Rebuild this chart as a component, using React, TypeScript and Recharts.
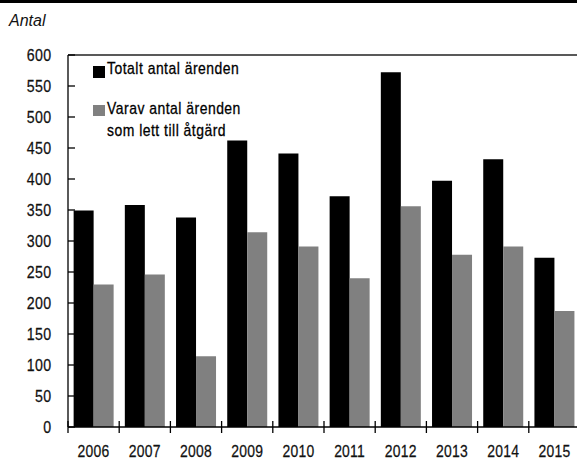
import React from "react";
import { BarChart, Bar, XAxis, YAxis, Legend, ReferenceLine } from "recharts";

const years = ["2006", "2007", "2008", "2009", "2010", "2011", "2012", "2013", "2014", "2015"];
const totalt = [349, 358, 338, 462, 441, 372, 572, 397, 432, 273];
const atgard = [230, 246, 114, 314, 291, 240, 356, 278, 291, 187];
const yTicks = [0, 50, 100, 150, 200, 250, 300, 350, 400, 450, 500, 550, 600];

const data = years.map((year, i) => ({ year, totalt: totalt[i], atgard: atgard[i] }));

// Arial Narrow look: Liberation Sans squeezed horizontally
const FONT = '"Liberation Sans", Arial, sans-serif';
const CHART_W = 580;
const PLOT_LEFT = 68;
const BAND = (CHART_W - PLOT_LEFT) / years.length;

const XTick = (props: any) => {
  const { x, y, payload } = props;
  const bx = x - BAND / 2;
  return (
    <g>
      <line x1={bx} x2={bx} y1={y - 6} y2={y + 6} stroke="#000" strokeWidth={1.3} />
      <text
        transform={`translate(${x},${y + 30}) scale(0.82,1)`}
        textAnchor="middle"
        fill="#111"
        stroke="#111"
        strokeWidth={0.25}
        fontSize={17}
        fontFamily={FONT}
        letterSpacing={0.3}
      >
        {payload.value}
      </text>
    </g>
  );
};

const YTick = (props: any) => {
  const { x, y, payload } = props;
  return (
    <g>
      <line x1={x} x2={x + 7} y1={y} y2={y} stroke="#000" strokeWidth={1.3} />
      <text
        transform={`translate(${x - 16.5},${y}) scale(0.86,1)`}
        dy="0.36em"
        textAnchor="end"
        fill="#111"
        stroke="#111"
        strokeWidth={0.25}
        fontSize={16.5}
        fontFamily={FONT}
        letterSpacing={0.4}
      >
        {payload.value}
      </text>
    </g>
  );
};

const narrow: React.CSSProperties = {
  position: "absolute",
  whiteSpace: "nowrap",
  transform: "scaleX(0.82)",
  transformOrigin: "left top",
  WebkitTextStroke: "0.3px #000",
};

const LegendBox = () => (
  <div style={{ position: "relative", width: 200, height: 90, fontFamily: FONT, fontSize: 17, lineHeight: "22px", color: "#000", letterSpacing: 0.6 }}>
    <div style={{ position: "absolute", left: 0, top: 4, width: 12, height: 12, background: "#000" }} />
    <div style={{ ...narrow, left: 14, top: -4.5 }}>Totalt antal ärenden</div>
    <div style={{ position: "absolute", left: 0, top: 43, width: 12, height: 11, background: "#808080" }} />
    <div style={{ ...narrow, left: 14, top: 35.5 }}>
      Varav antal ärenden
      <br />
      som lett till åtgärd
    </div>
  </div>
);

export default function App() {
  return (
    <div style={{ position: "absolute", left: 0, top: 0, width: 577, height: 459, overflow: "hidden", background: "#fff" }}>
      <div style={{ position: "absolute", left: 0, top: 0, width: 577, height: 3, background: "#000" }} />
      <div style={{ position: "absolute", left: 9, top: 12, fontFamily: FONT, fontStyle: "italic", fontSize: 16, color: "#111" }}>
        Antal
      </div>
      <BarChart
        width={CHART_W}
        height={459}
        data={data}
        margin={{ top: 55, right: 0, left: 0, bottom: 0 }}
        barCategoryGap="11%"
        barGap={0}
      >
        <XAxis
          dataKey="year"
          height={32}
          axisLine={{ stroke: "#000", strokeWidth: 1.3 }}
          tickLine={false}
          tickSize={0}
          tickMargin={0}
          interval={0}
          tick={<XTick />}
        />
        <YAxis
          width={PLOT_LEFT}
          domain={[0, 600]}
          ticks={yTicks}
          interval={0}
          axisLine={{ stroke: "#000", strokeWidth: 1.3 }}
          tickLine={false}
          tickSize={0}
          tickMargin={0}
          tick={<YTick />}
        />
        <ReferenceLine y={600} stroke="#595959" strokeWidth={2} />
        <Legend
          layout="vertical"
          align="center"
          verticalAlign="middle"
          wrapperStyle={{ position: "absolute", left: 93, top: 62, width: 200, height: 90 }}
          content={<LegendBox />}
        />
        <Bar dataKey="totalt" name="Totalt antal ärenden" fill="#000" isAnimationActive={false} />
        <Bar dataKey="atgard" name="Varav antal ärenden som lett till åtgärd" fill="#808080" isAnimationActive={false} />
      </BarChart>
    </div>
  );
}
